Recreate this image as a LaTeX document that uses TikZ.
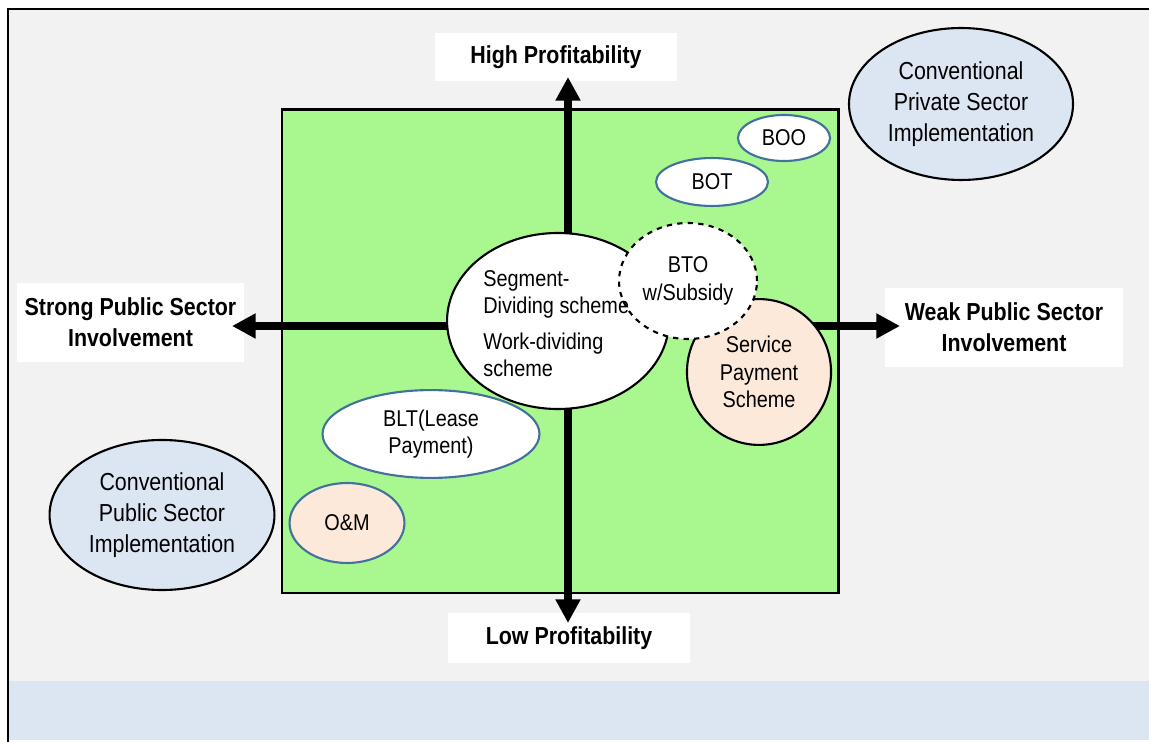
\documentclass[tikz,border=0pt]{standalone}
\usepackage{fontspec}
\setmainfont{Liberation Sans}[FakeStretch=0.87]
\usepackage{xcolor}
\definecolor{panelgrey}{HTML}{F2F2F2}
\definecolor{bandblue}{HTML}{DCE6F2}
\definecolor{quadgreen}{HTML}{A9F78F}
\definecolor{peach}{HTML}{FDE9D9}
\definecolor{rimblue}{HTML}{41719C}
\usepackage{tikz}
\usetikzlibrary{arrows.meta, shapes.geometric}

\begin{document}
\begin{tikzpicture}[x=0.02cm, y=-0.02cm,
  axislabel/.style={fill=white, inner sep=0pt, align=center,
    font=\fontsize{14}{17.6}\selectfont\bfseries},
  bubble/.style={ellipse, draw, line width=1.2pt, inner sep=0pt, align=center,
    font=\fontsize{13}{15.8}\selectfont},
  axis/.style={line width=4pt, -{Triangle[length=13.5pt, width=13.5pt]}}]
  \useasboundingbox (0,0) rectangle (1149,742);

  % --- background panel ---
  \fill[panelgrey] (8,9) rectangle (1149,681);
  \fill[bandblue] (8,681) rectangle (1149,740);
  \draw[line width=1.4pt] (1149,9) -- (8,9) -- (8,742);

  % quadrant field
  \draw[line width=1.7pt, fill=quadgreen] (282,110) rectangle (838,593);

  % --- axis labels ---
  \node[axislabel, minimum width=137.7pt, minimum height=27.3pt] (high) at (556,57) {High Profitability};
  \node[axislabel, minimum width=137.7pt, minimum height=28.5pt] (low) at (569,638) {Low Profitability};
  \node[axislabel, minimum width=129.2pt, minimum height=45pt] (strong) at (130.5,322.5) {Strong Public Sector\\Involvement};
  \node[axislabel, minimum width=135.4pt, minimum height=45pt] (weak) at (1004,327.5) {Weak Public Sector\\Involvement};

  % --- axes ---
  \coordinate (o) at (568,326);
  \coordinate (uptip) at (568,77);
  \coordinate (downtip) at (568,623);
  \coordinate (lefttip) at (232,326);
  \coordinate (righttip) at (900,326);
  \draw[axis] (o) -- (uptip);
  \draw[axis] (o) -- (downtip);
  \draw[axis] (o) -- (lefttip);
  \draw[axis] (o) -- (righttip);

  % --- conventional schemes ---
  \node[bubble, fill=bandblue, minimum width=127.5pt, minimum height=86.5pt,
    font=\fontsize{14}{17.6}\selectfont] (private) at (961,104) {Conventional\\Private Sector\\Implementation};
  \node[bubble, fill=bandblue, minimum width=128pt, minimum height=85.4pt,
    font=\fontsize{14}{17.6}\selectfont] (public) at (162,515) {Conventional\\Public Sector\\Implementation};

  % --- PPP schemes ---
  \node[bubble, draw=rimblue, fill=white, minimum width=52.4pt, minimum height=26.2pt] (boo) at (784,138) {BOO};
  \node[bubble, draw=rimblue, fill=white, minimum width=63.7pt, minimum height=27.3pt] (bot) at (712,182) {BOT};
  \node[bubble, fill=white, minimum width=126.3pt, minimum height=100.2pt] (segment) at (558,321) {};
  \node[bubble, fill=peach, minimum width=82pt, minimum height=83pt] (service) at (759,372) {Service\\Payment\\Scheme};
  \node[bubble, dashed, fill=white, minimum width=78.5pt, minimum height=66pt] (bto) at (688,281) {BTO\\w/Subsidy};
  \node[bubble, draw=rimblue, fill=white, minimum width=123.5pt, minimum height=50pt] (blt) at (431,434) {BLT(Lease\\Payment)};
  \node[bubble, draw=rimblue, fill=peach, minimum width=65.4pt, minimum height=45.5pt] (om) at (347,523) {O\&M};

  \node[anchor=west, align=left, inner sep=0pt, font=\fontsize{13}{15.4}\selectfont] (segtext) at (483,324)
    {Segment-\\Dividing scheme\\[5pt]Work-dividing\\scheme};
\end{tikzpicture}
\end{document}
